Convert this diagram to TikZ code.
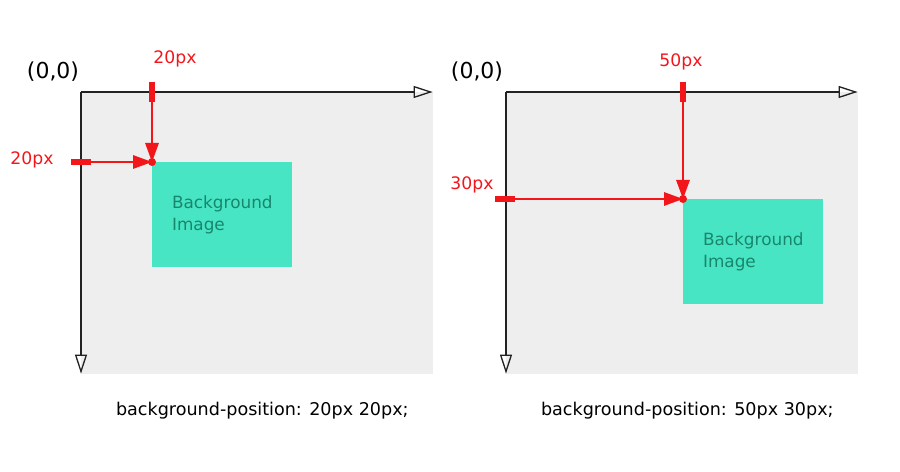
\documentclass[tikz,border=0pt]{standalone}
\usepackage{fontspec}
\setmainfont{DejaVu Sans}
\usetikzlibrary{positioning, arrows.meta}

\definecolor{pxred}{HTML}{F2161B}
\definecolor{bgimg}{HTML}{48E5C4}
\definecolor{bgtext}{HTML}{17876C}
\definecolor{canvasgray}{HTML}{EEEEEE}
\definecolor{axisgray}{HTML}{222222}

\begin{document}
\begin{tikzpicture}[
  x=0.02cm, y=-0.02cm,
  canvasbox/.style={rectangle, fill=canvasgray, inner sep=0pt, anchor=north west,
                    minimum width=7.04cm, minimum height=5.64cm},
  bgimage/.style={rectangle, fill=bgimg, text=bgtext, inner sep=0pt, align=left,
                  font=\fontsize{9.6}{12}\selectfont, anchor=north west,
                  minimum width=2.8cm, minimum height=2.1cm},
  axis/.style={-{Triangle[open, length=0.38cm, width=0.24cm]}, line width=0.75pt, axisgray},
  offsetarrow/.style={-{Triangle[length=0.38cm, width=0.27cm]}, line width=0.85pt, pxred},
  tickmark/.style={line width=3pt, pxred},
  pxlabel/.style={font=\fontsize{9.8}{11}\selectfont, text=pxred, inner sep=0pt},
  origin/.style={font=\fontsize{12.5}{14}\selectfont, inner sep=0pt},
  captiontext/.style={font=\fontsize{10}{12}\selectfont, inner sep=0pt}
]
\useasboundingbox (0,0) rectangle (900,472);

% Left example: 20px 20px
\node[canvasbox] (canvasL) at (81,92) {};
\coordinate (posL) at (152,162);
\coordinate (topL) at (152,92);
\coordinate (sideL) at (81,162);
\node[bgimage] (imgL) at (posL) {Background\\Image};
\draw[axis] (canvasL.north west) -- ([xshift=-0.02cm]canvasL.north east);
\draw[axis] (canvasL.north west) -- ([yshift=0.02cm]canvasL.south west);
\node[origin] (originL) at (53,72) {(0,0)};

\draw[tickmark] ([yshift=0.2cm]topL) -- ([yshift=-0.2cm]topL);
\draw[tickmark] ([xshift=-0.2cm]sideL) -- ([xshift=0.2cm]sideL);
\draw[offsetarrow] (topL) -- (posL);
\draw[offsetarrow] ([xshift=-0.2cm]sideL) -- (posL);
\fill[pxred] (posL) circle[radius=0.08cm];
\node[pxlabel] (lblLtop) at (175,59) {20px};
\node[pxlabel] (lblLside) at (32,160) {20px};

\node[captiontext, below=0.54cm of canvasL.south, xshift=0.1cm] (capL)
  {background-position: 20px 20px;};

% Right example: 50px 30px
\node[canvasbox] (canvasR) at (506,92) {};
\coordinate (posR) at (683,199);
\coordinate (topR) at (683,92);
\coordinate (sideR) at (505,199);
\node[bgimage] (imgR) at (posR) {Background\\Image};
\draw[axis] (canvasR.north west) -- ([xshift=-0.02cm]canvasR.north east);
\draw[axis] (canvasR.north west) -- ([yshift=0.02cm]canvasR.south west);
\node[origin] (originR) at (477,72) {(0,0)};

\draw[tickmark] ([yshift=0.2cm]topR) -- ([yshift=-0.2cm]topR);
\draw[tickmark] ([xshift=-0.2cm]sideR) -- ([xshift=0.2cm]sideR);
\draw[offsetarrow] (topR) -- (posR);
\draw[offsetarrow] ([xshift=-0.2cm]sideR) -- (posR);
\fill[pxred] (posR) circle[radius=0.08cm];
\node[pxlabel] (lblRtop) at (681,62) {50px};
\node[pxlabel] (lblRside) at (472,185) {30px};

\node[captiontext, below=0.54cm of canvasR.south, xshift=0.1cm] (capR)
  {background-position: 50px 30px;};

\end{tikzpicture}
\end{document}
